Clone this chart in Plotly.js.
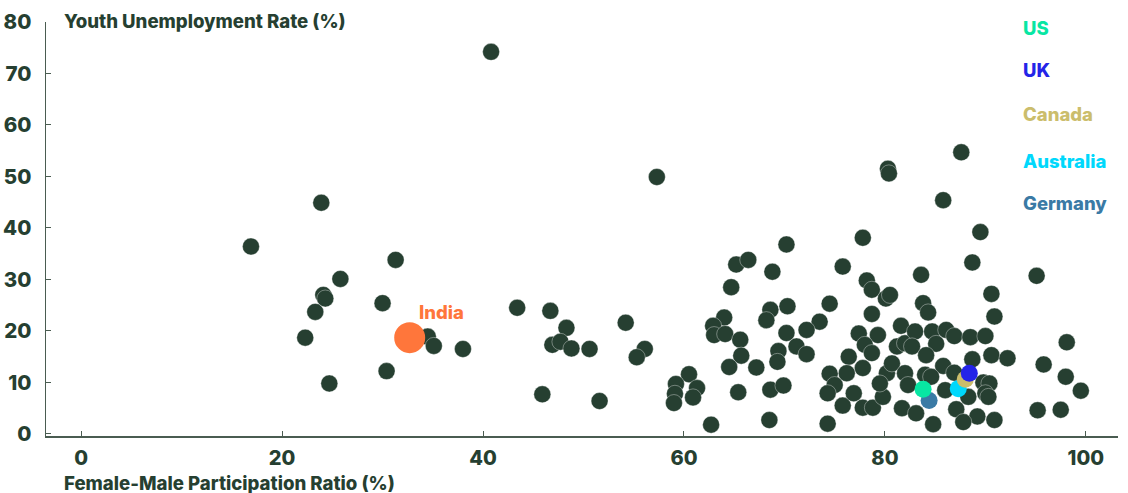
<!DOCTYPE html>
<html>
<head>
<meta charset="utf-8">
<script src="https://cdn.plot.ly/plotly-3.0.1.min.js"></script>
<style>html,body{margin:0;padding:0;background:#fff;}#chart{width:1128px;height:493px;}</style>
</head>
<body>
<div id="chart"></div>
<script>
// Other countries: female-male participation ratio (%) and youth unemployment rate (%)
const otherX = [16.9,23.9,31.3,25.8,24.1,24.3,23.3,30.0,22.3,34.5,35.1,38.0,30.4,24.7,43.4,40.8,46.7,48.3,46.9,47.7,48.8,50.6,45.9,51.6,54.2,56.1,55.3,57.3,
 60.5,59.2,59.1,59.0,61.3,60.9,62.7,65.2,66.4,64.7,64.0,62.9,63.0,64.1,65.6,65.7,64.5,65.4,70.2,68.8,68.6,68.2,70.3,74.5,73.5,72.2,70.2,71.2,72.2,69.4,69.3,67.2,68.6,69.9,68.5,74.3,
 75.8,77.8,78.2,78.7,80.1,80.5,78.7,80.3,80.4,87.6,85.8,89.5,88.7,83.6,95.1,90.6,83.8,84.3,90.9,77.4,79.3,81.6,76.4,78.0,78.7,77.8,76.2,74.5,75.0,74.3,75.8,76.9,77.8,78.8,79.8,80.2,80.7,81.2,82.0,82.0,79.5,81.7,
 83.0,84.7,86.1,86.9,88.5,90.0,85.1,82.7,84.1,98.1,90.6,92.2,88.7,95.8,85.8,84.0,84.6,86.9,89.8,90.4,90.0,90.3,88.3,86.0,82.3,98.0,99.5,83.1,87.1,89.2,87.8,90.9,84.8,95.2,97.5];
const otherY = [36.4,44.9,33.8,30.1,27.0,26.3,23.7,25.4,18.7,18.9,17.1,16.5,12.2,9.8,24.5,74.2,23.9,20.6,17.3,17.9,16.6,16.5,7.7,6.4,21.6,16.5,14.9,49.9,
 11.6,9.7,7.8,6.0,8.9,7.1,1.8,32.9,33.8,28.5,22.6,21.0,19.2,19.4,18.3,15.2,13.0,8.1,36.8,31.5,24.1,22.1,24.8,25.3,21.8,20.2,19.6,17.0,15.5,16.1,14.0,12.9,8.6,9.4,2.7,2.0,
 32.5,38.1,29.8,28.0,26.3,27.0,23.3,51.5,50.6,54.7,45.4,39.2,33.3,30.9,30.7,27.2,25.4,23.6,22.8,19.5,19.2,21.0,15.0,17.3,15.7,12.8,11.8,11.7,9.5,7.9,5.5,7.9,5.1,5.1,7.2,11.8,13.7,17.0,17.6,11.8,9.8,5.0,
 19.9,19.9,20.2,19.0,18.8,19.0,17.5,17.0,15.3,17.8,15.3,14.7,14.5,13.5,13.2,11.5,11.1,11.9,10.0,9.8,7.9,7.2,7.2,8.5,9.5,11.1,8.4,4.0,4.8,3.4,2.3,2.7,1.9,4.6,4.7];

// Highlighted countries
const highlightNames = ["US","UK","Canada","Australia","Germany"];
const highlightX = [83.8, 88.4, 88.0, 87.3, 84.4];
const highlightY = [8.7, 11.8, 10.6, 8.8, 6.5];

const indiaName = "India";
const indiaX = [32.7];
const indiaY = [18.7];

const xTicks = [0,20,40,60,80,100];
const yTicks = [0,10,20,30,40,50,60,70,80];
const xTitle = "Female-Male Participation Ratio (%)";
const yTitle = "Youth Unemployment Rate (%)";

// styles
const DARK = "#263f31";
const FONT = "Inter, 'Noto Sans', sans-serif";
const highlightColors = {US:"#08e6a3", UK:"#2424e8", Canada:"#cbbd6c", Australia:"#00d8fc", Germany:"#3a7aa5"};
const INDIA = "#ff763b";
const legendY = [28, 70, 114, 161, 203];

const traces = [
  {type:"scatter", mode:"markers", x:otherX, y:otherY, hoverinfo:"x+y",
   marker:{size:17, color:DARK, line:{width:0.6, color:"rgba(255,255,255,0.6)"}}},
  {type:"scatter", mode:"markers", x:indiaX, y:indiaY, text:[indiaName], hoverinfo:"text",
   marker:{size:31, color:INDIA}},
];
// order Germany, US, Australia, Canada, UK so UK on top
const drawOrder = ["Germany","US","Australia","Canada","UK"];
drawOrder.forEach(n=>{
  const i = highlightNames.indexOf(n);
  traces.push({type:"scatter", mode:"markers", x:[highlightX[i]], y:[highlightY[i]], text:[n], hoverinfo:"text",
    marker:{size:17, color:highlightColors[n]}});
});

const TW = 800;
const annotations = [
  {text:yTitle, xref:"paper", yref:"paper", x:0, y:1, xanchor:"left", yanchor:"middle", xshift:16, yshift:1,
   showarrow:false, font:{family:FONT, size:18.6, color:DARK, weight:TW}},
  {text:xTitle, xref:"paper", yref:"paper", x:0, y:0, xanchor:"left", yanchor:"middle", xshift:16, yshift:-47,
   showarrow:false, font:{family:FONT, size:18.6, color:DARK, weight:TW}},
  {text:indiaName, xref:"x", yref:"y", x:indiaX[0], y:indiaY[0], xanchor:"left", yanchor:"middle", xshift:7, yshift:26,
   showarrow:false, font:{family:FONT, size:18.5, color:INDIA, weight:TW}},
];
highlightNames.forEach((n,i)=>{
  annotations.push({text:n, xref:"paper", yref:"paper", x:0, y:1, xanchor:"left", yanchor:"middle",
    xshift:975, yshift:22-legendY[i], showarrow:false, font:{family:FONT, size:18.5, color:highlightColors[n], weight:TW}});
});

const layout = {
  width:1128, height:493,
  margin:{l:46, r:10, t:22, b:57},
  paper_bgcolor:"#fff", plot_bgcolor:"#fff",
  showlegend:false,
  font:{family:FONT, color:DARK},
  xaxis:{range:[-3.5,103.2], tickvals:xTicks, ticktext:xTicks.map(String), showgrid:false, zeroline:false,
    showline:true, linecolor:"#4a5c51", linewidth:1.5, ticks:"inside", ticklen:5, tickcolor:"#4a5c51", tickwidth:1,
    tickfont:{family:FONT, size:20, color:DARK, weight:TW}, ticklabelstandoff:3},
  yaxis:{range:[-0.4,80], tickvals:yTicks, ticktext:yTicks.map(String), showgrid:false, zeroline:false,
    showline:true, linecolor:"#4a5c51", linewidth:1.5, ticks:"inside", ticklen:5, tickcolor:"#4a5c51", tickwidth:1,
    tickfont:{family:FONT, size:20.5, color:DARK, weight:TW}, ticklabelstandoff:9},
  annotations:annotations
};
Plotly.newPlot("chart", traces, layout, {displayModeBar:false, staticPlot:true});
</script>
</body>
</html>
